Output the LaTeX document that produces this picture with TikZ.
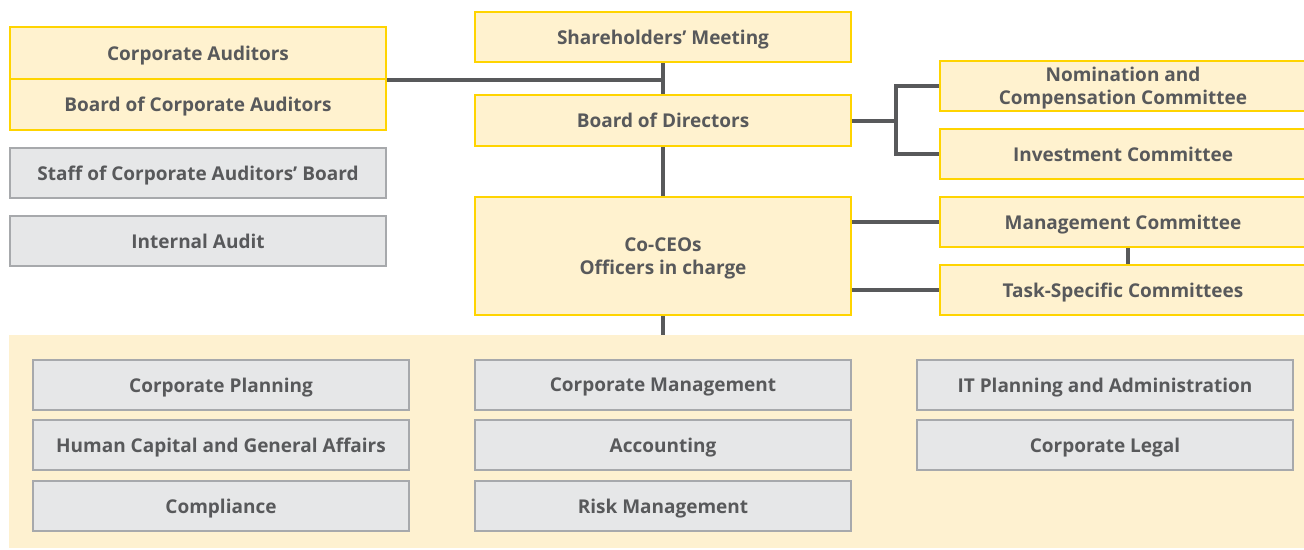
\documentclass[tikz,border=0pt]{standalone}
\usepackage{fontspec}
\setmainfont{Open Sans}
\usepackage{tikz}

\definecolor{txtgray}{HTML}{58595B}
\definecolor{linegray}{HTML}{58595B}
\definecolor{goldline}{HTML}{FFD400}
\definecolor{goldfill}{HTML}{FFF2CF}
\definecolor{boxgray}{HTML}{E6E7E8}
\definecolor{edgegray}{HTML}{A7A9AC}
\definecolor{bandfill}{HTML}{FEF1D0}

\tikzset{
  orgbox/.style={draw, line width=2.5pt, inner sep=0pt, align=center,
    minimum width=376pt, minimum height=50pt, text=txtgray, text depth=0pt,
    font=\fontsize{19}{23}\selectfont\bfseries},
  goldbox/.style={orgbox, draw=goldline, fill=goldfill},
  graybox/.style={orgbox, draw=edgegray, fill=boxgray},
  link/.style={draw=linegray, line width=4pt}
}

\begin{document}
\begin{tikzpicture}[x=1pt,y=-1pt]
\useasboundingbox (0,0) rectangle (1304,549);
\node[fill=bandfill, minimum width=1295pt, minimum height=213pt, inner sep=0pt] (band) at (656.5,441.5) {};

\node[goldbox, minimum height=52pt] (ca) at (198,53) {Corporate Auditors};
\node[goldbox, minimum height=51pt] (bca) at (198,104.5) {Board of Corporate Auditors};
\node[graybox] (staff) at (198,173) {Staff of Corporate Auditors’ Board};
\node[graybox] (audit) at (198,241) {Internal Audit};

\node[goldbox] (share) at (663,37) {Shareholders’ Meeting};
\node[goldbox, minimum height=51pt] (board) at (663,120.5) {Board of Directors};
\node[goldbox, minimum height=118pt] (ceo) at (663,256) {Co-CEOs\\Officers in charge};

\node[goldbox, minimum width=366pt] (nom) at (1123,86) {Nomination and\\Compensation Committee};
\node[goldbox, minimum width=366pt] (invest) at (1123,154) {Investment Committee};
\node[goldbox, minimum width=366pt] (mgmt) at (1123,222) {Management Committee};
\node[goldbox, minimum width=366pt] (task) at (1123,290) {Task-Specific Committees};

\path[link] (ca.south east) -- (ca.south east -| share.south);
\path[link] (share.south) -- (board.north);
\path[link] (board.south) -- (ceo.north);
\path[link] (ceo.south) -- (ceo.south |- band.north);
\path[link] (board.east) -- ++(44,0) coordinate (fork);
\path[link] (nom.west) -| (fork) |- (invest.west);
\path[link] (ceo.east |- mgmt) -- (mgmt.west);
\path[link] (ceo.east |- task) -- (task.west);
\path[link] ([xshift=5pt]mgmt.south) -- ([xshift=5pt]task.north);

\foreach \name/\x/\y/\label in {
  plan/221/385/Corporate Planning,
  human/221/445/Human Capital and General Affairs,
  comp/221/506/Compliance,
  cmgmt/663/385/Corporate Management,
  acct/663/445/Accounting,
  risk/663/506/Risk Management,
  itpa/1105/385/IT Planning and Administration,
  legal/1105/445/Corporate Legal}
  \node[graybox] (\name) at (\x,\y) {\label};
\end{tikzpicture}
\end{document}
